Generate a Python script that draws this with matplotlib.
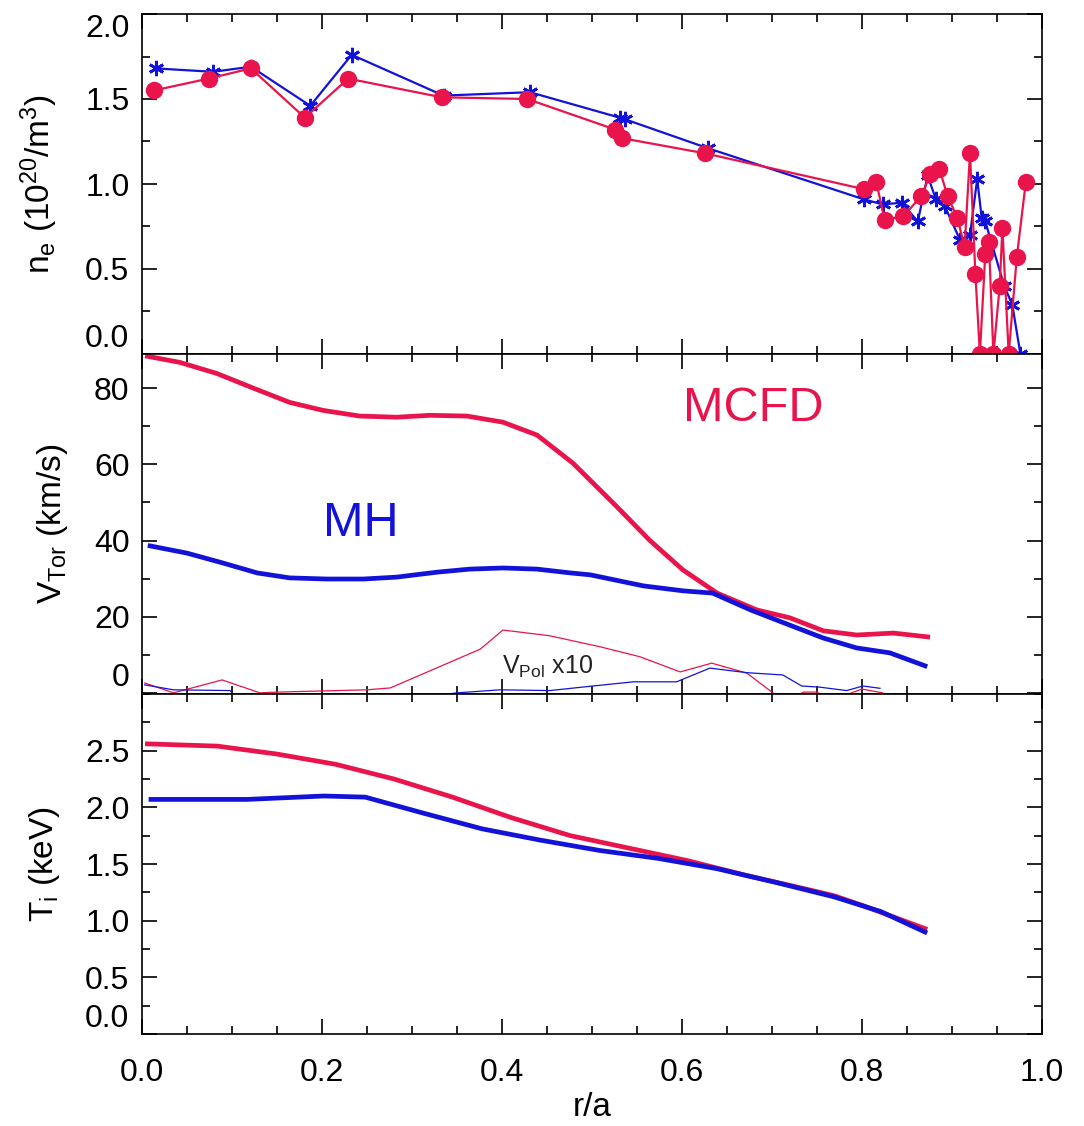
import matplotlib
matplotlib.use("Agg")
import matplotlib.pyplot as plt
from matplotlib.ticker import MultipleLocator

plt.rcParams['font.family'] = ['Liberation Sans', 'DejaVu Sans']
plt.rcParams['mathtext.fontset'] = 'custom'
plt.rcParams['mathtext.rm'] = 'Liberation Sans'
plt.rcParams['mathtext.it'] = 'Liberation Sans'

RED = "#E8144B"
BLUE = "#1212D8"

# ---- electron density (10^20 m^-3) ----
r_ne_mh = [0.015, 0.079, 0.121, 0.187, 0.233, 0.335, 0.431, 0.531, 0.537, 0.629,
           0.802, 0.823, 0.844, 0.862, 0.873, 0.882, 0.892, 0.909, 0.920, 0.928,
           0.933, 0.937, 0.958, 0.967, 0.976]
ne_mh = [1.68, 1.66, 1.69, 1.46, 1.76, 1.52, 1.54, 1.39, 1.38, 1.21,
         0.91, 0.88, 0.89, 0.78, 1.05, 0.91, 0.87, 0.67, 0.70, 1.03,
         0.80, 0.78, 0.40, 0.29, 0.0]

r_ne_mcfd = [0.013, 0.074, 0.121, 0.181, 0.229, 0.333, 0.428, 0.526, 0.533, 0.626,
             0.802, 0.816, 0.825, 0.846, 0.866, 0.876, 0.886, 0.895, 0.906, 0.914,
             0.920, 0.926, 0.931, 0.937, 0.941, 0.946, 0.953, 0.956, 0.963, 0.972,
             0.982]
ne_mcfd = [1.55, 1.62, 1.68, 1.39, 1.62, 1.51, 1.50, 1.32, 1.27, 1.18,
           0.97, 1.01, 0.79, 0.81, 0.93, 1.06, 1.09, 0.93, 0.80, 0.63,
           1.18, 0.47, 0.0, 0.59, 0.66, 0.0, 0.40, 0.74, 0.0, 0.57,
           1.01]

# ---- toroidal rotation (km/s) ----
r_vt_mcfd = [0.006, 0.042, 0.083, 0.124, 0.164, 0.201, 0.242, 0.283, 0.320, 0.361,
             0.401, 0.439, 0.479, 0.528, 0.564, 0.601, 0.639, 0.683, 0.720, 0.757,
             0.794, 0.835, 0.873]
vt_mcfd = [88.4, 86.8, 83.9, 80.0, 76.3, 74.2, 72.7, 72.4, 72.9, 72.7,
           71.1, 67.7, 60.3, 48.8, 40.1, 32.3, 26.2, 21.8, 19.7, 16.3,
           15.2, 15.7, 14.7]

r_vt_mh = [0.009, 0.050, 0.090, 0.128, 0.164, 0.205, 0.246, 0.283, 0.328, 0.364,
           0.401, 0.439, 0.476, 0.498, 0.557, 0.601, 0.634, 0.676, 0.713, 0.757,
           0.794, 0.831, 0.870]
vt_mh = [38.6, 36.7, 34.1, 31.5, 30.2, 29.9, 29.9, 30.4, 31.7, 32.5,
         32.8, 32.5, 31.5, 31.0, 28.1, 26.8, 26.2, 21.8, 18.4, 14.4,
         11.8, 10.5, 7.1]

# ---- poloidal rotation x10 (km/s) ----
r_vp_mcfd = [0.003, 0.035, 0.089, 0.131, 0.150, 0.200, 0.250, 0.276, 0.376, 0.401,
             0.453, 0.509, 0.553, 0.598, 0.633, 0.672, 0.701, 0.720, 0.735, 0.750,
             0.765, 0.800, 0.823]
vp_mcfd = [2.6, 0.0, 3.4, 0.0, 0.2, 0.5, 0.8, 1.3, 11.5, 16.5,
           15.0, 12.1, 9.5, 5.5, 7.8, 5.2, 0.0, -2.0, 0.2, 0.2,
           -2.0, 1.0, 0.0]

r_vp_mh = [0.003, 0.035, 0.098, 0.105, 0.300, 0.350, 0.398, 0.453, 0.501, 0.546,
           0.594, 0.631, 0.672, 0.712, 0.733, 0.753, 0.783, 0.801, 0.820]
vp_mh = [2.1, 0.8, 0.6, -1.5, -1.5, 0.0, 0.8, 0.6, 1.8, 2.9,
         2.9, 6.5, 5.3, 4.7, 1.8, 1.5, 0.6, 1.8, 1.2]

# ---- ion temperature (keV) ----
r_ti_mcfd = [0.006, 0.084, 0.150, 0.215, 0.280, 0.345, 0.410, 0.476, 0.541, 0.606,
             0.671, 0.737, 0.769, 0.802, 0.870]
ti_mcfd = [2.56, 2.54, 2.47, 2.38, 2.25, 2.09, 1.91, 1.75, 1.64, 1.53,
           1.40, 1.28, 1.22, 1.13, 0.93]

r_ti_mh = [0.010, 0.117, 0.202, 0.248, 0.312, 0.378, 0.443, 0.508, 0.573, 0.638,
           0.703, 0.769, 0.821, 0.870]
ti_mh = [2.07, 2.07, 2.10, 2.09, 1.95, 1.81, 1.71, 1.62, 1.55, 1.46,
         1.34, 1.21, 1.08, 0.90]

ne_ticks = [0.0, 0.5, 1.0, 1.5, 2.0]
vt_ticks = [0, 20, 40, 60, 80]
ti_ticks = [0.0, 0.5, 1.0, 1.5, 2.0, 2.5]
r_ticks = [0.0, 0.2, 0.4, 0.6, 0.8, 1.0]

FS = 23
LFS = 24

fig = plt.figure(figsize=(10.84, 11.26), dpi=100)
W, H = 1084.0, 1126.0
left, width = 142 / W, 900 / W
ph = 340 / H
ax_ne = fig.add_axes([left, 1 - 354 / H, width, ph])
ax_vt = fig.add_axes([left, 1 - 694 / H, width, ph])
ax_ti = fig.add_axes([left, 1 - 1034 / H, width, ph])


def style(ax, yticks, ymin, ymax, yminor, fmt, show_x):
    ax.set_xlim(0, 1)
    ax.set_ylim(ymin, ymax)
    ax.set_xticks(r_ticks)
    ax.xaxis.set_minor_locator(MultipleLocator(0.05))
    ax.set_yticks(yticks)
    ax.yaxis.set_minor_locator(MultipleLocator(yminor))
    ax.set_yticklabels([fmt.format(v) for v in yticks])
    if show_x:
        ax.set_xticklabels(["{:.1f}".format(v) for v in r_ticks])
    else:
        ax.set_xticklabels([])
    ax.tick_params(which='both', direction='in', top=True, right=True,
                   labelsize=FS, width=1.2, colors='black')
    ax.tick_params(which='major', length=11)
    ax.tick_params(which='minor', length=6)
    ax.tick_params(axis='y', pad=9)
    ax.tick_params(axis='x', pad=17)
    for s in ax.spines.values():
        s.set_linewidth(1.2)
    ticks = ax.yaxis.get_major_ticks()
    if yticks[0] <= ymin + 0.01 * (ymax - ymin):
        ticks[0].label1.set_verticalalignment('bottom')
    if yticks[-1] >= ymax - 0.01 * (ymax - ymin):
        ticks[-1].label1.set_verticalalignment('top')


# density panel
ax_ne.plot(r_ne_mh, ne_mh, color=BLUE, lw=1.6, marker=(6, 2, 0), ms=11, mew=2.0)
ax_ne.plot(r_ne_mcfd, ne_mcfd, color=RED, lw=1.6, marker='o', ms=11.5,
           mec=RED, mfc=RED)
style(ax_ne, ne_ticks, 0.0, 2.0, 0.25, "{:.1f}", False)
ax_ne.text(-0.114, 0.5, r'n$_{\rm e}$ (10$^{20}$/m$^3$)', transform=ax_ne.transAxes,
           rotation=90, ha='center', va='center', fontsize=LFS)

# rotation panel
ax_vt.plot(r_vp_mcfd, vp_mcfd, color=RED, lw=0.9)
ax_vt.plot(r_vp_mh, vp_mh, color=BLUE, lw=0.9)
ax_vt.plot(r_vt_mcfd, vt_mcfd, color=RED, lw=3.4, solid_joinstyle='round')
ax_vt.plot(r_vt_mh, vt_mh, color=BLUE, lw=3.4, solid_joinstyle='round')
style(ax_vt, vt_ticks, -0.3, 89.0, 10, "{:d}", False)
ax_vt.text(-0.100, 0.5, r'V$_{\rm Tor}$ (km/s)', transform=ax_vt.transAxes,
           rotation=90, ha='center', va='center', fontsize=LFS)
ax_vt.text(0.601, 74.8, 'MCFD', color=RED, fontsize=35, ha='left', va='center')
ax_vt.text(0.201, 44.6, 'MH', color=BLUE, fontsize=35, ha='left', va='center')
ax_vt.text(0.400, 6.8, r'V$_{\rm Pol}$ x10', color='#222222', fontsize=18,
           ha='left', va='center')

# ion temperature panel
ax_ti.plot(r_ti_mcfd, ti_mcfd, color=RED, lw=3.4, solid_joinstyle='round')
ax_ti.plot(r_ti_mh, ti_mh, color=BLUE, lw=3.4, solid_joinstyle='round')
style(ax_ti, ti_ticks, 0.0, 3.0, 0.25, "{:.1f}", True)
ax_ti.text(-0.108, 0.5, r'T$_{\rm i}$ (keV)', transform=ax_ti.transAxes,
           rotation=90, ha='center', va='center', fontsize=LFS)
ax_ti.set_xlabel('r/a', fontsize=LFS)
ax_ti.xaxis.set_label_coords(0.5, -0.172)

fig.savefig('out.png', dpi=100, facecolor='white')
